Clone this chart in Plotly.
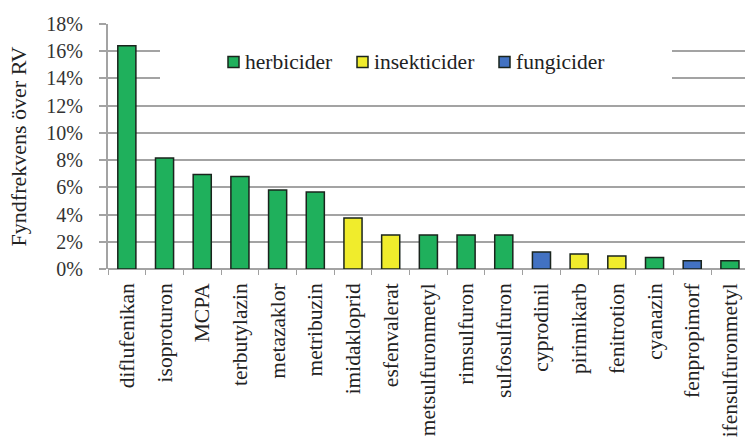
import plotly.graph_objects as go

# Substances ordered by detection frequency above the guideline value (RV)
substances = ["diflufenikan", "isoproturon", "MCPA", "terbutylazin", "metazaklor",
              "metribuzin", "imidakloprid", "esfenvalerat", "metsulfuronmetyl",
              "rimsulfuron", "sulfosulfuron", "cyprodinil", "pirimikarb",
              "fenitrotion", "cyanazin", "fenpropimorf", "ifensulfuronmetyl"]
frequency = [0.164, 0.0815, 0.0695, 0.068, 0.058, 0.0565, 0.0375, 0.025, 0.025,
             0.025, 0.025, 0.0125, 0.011, 0.0095, 0.0085, 0.006, 0.006]
group = ["herbicider", "herbicider", "herbicider", "herbicider", "herbicider",
         "herbicider", "insekticider", "insekticider", "herbicider",
         "herbicider", "herbicider", "fungicider", "insekticider",
         "insekticider", "herbicider", "fungicider", "herbicider"]

groups = ["herbicider", "insekticider", "fungicider"]
colors = {"herbicider": "#1fb05c", "insekticider": "#f0ec2c", "fungicider": "#4272c2"}
y_ticks = [i / 100 for i in range(0, 19, 2)]
y_labels = [f"{i}%" for i in range(0, 19, 2)]

SERIF = "Liberation Serif"
W, H = 745, 447
M_L, M_R, M_T, M_B = 108, 0, 24, 178
PW, PH = W - M_L - M_R, H - M_T - M_B


def px_x(px):
    return (px - M_L) / PW


def px_y(py):
    return (H - M_B - py) / PH


fig = go.Figure()
for g in groups:
    xs = [s for s, k in zip(substances, group) if k == g]
    ys = [v for v, k in zip(frequency, group) if k == g]
    fig.add_trace(go.Bar(
        x=xs, y=ys, name=g, width=0.48, showlegend=False,
        marker=dict(color=colors[g], line=dict(color="#1a241d", width=1.5)),
    ))

# Key box: white panel over the gridlines with a swatch + label per group
shapes = [dict(type="rect", xref="paper", yref="paper", x0=px_x(160), x1=px_x(672),
               y0=px_y(92), y1=px_y(37), fillcolor="white", line=dict(width=0),
               layer="above")]
annotations = []
key_left = [228, 357, 499]
for g, sx in zip(groups, key_left):
    shapes.append(dict(type="rect", xref="paper", yref="paper",
                       x0=px_x(sx), x1=px_x(sx + 11), y0=px_y(67.5), y1=px_y(56.5),
                       fillcolor=colors[g], line=dict(color="#1a241d", width=1.5),
                       layer="above"))
    annotations.append(dict(text=g, xref="paper", yref="paper", x=px_x(sx + 15),
                            y=px_y(62), xanchor="left", yanchor="middle",
                            showarrow=False,
                            font=dict(family=SERIF, size=21.5, color="#222222")))

fig.update_layout(
    width=W, height=H,
    margin=dict(l=M_L, r=M_R, t=M_T, b=M_B),
    paper_bgcolor="white", plot_bgcolor="white",
    barmode="relative",
    font=dict(family=SERIF, size=19, color="#222222"),
    showlegend=False,
    shapes=shapes, annotations=annotations,
)

fig.update_xaxes(
    categoryorder="array", categoryarray=substances,
    range=[-0.5, 16.4],
    tickangle=-90, tickfont=dict(family=SERIF, size=21.5, color="#222222"),
    ticks="outside", tickson="boundaries", ticklen=5, tickcolor="#a0a0a0",
    ticklabelstandoff=9,
    showline=False, showgrid=False,
)
fig.update_yaxes(
    range=[0, 0.18], tickvals=y_ticks, ticktext=y_labels,
    tickfont=dict(family=SERIF, size=20, color="#333333"),
    ticklabelstandoff=12,
    showgrid=True, gridcolor="#a3a3a3", gridwidth=2,
    showline=True, linecolor="#a3a3a3", linewidth=2,
    ticks="outside", ticklen=7, tickcolor="#a3a3a3", tickwidth=2,
    zeroline=True, zerolinecolor="#a3a3a3", zerolinewidth=2,
    title=dict(text="Fyndfrekvens över RV", font=dict(family=SERIF, size=22, color="#222222"),
               standoff=14),
)

fig.write_html("out.html")
